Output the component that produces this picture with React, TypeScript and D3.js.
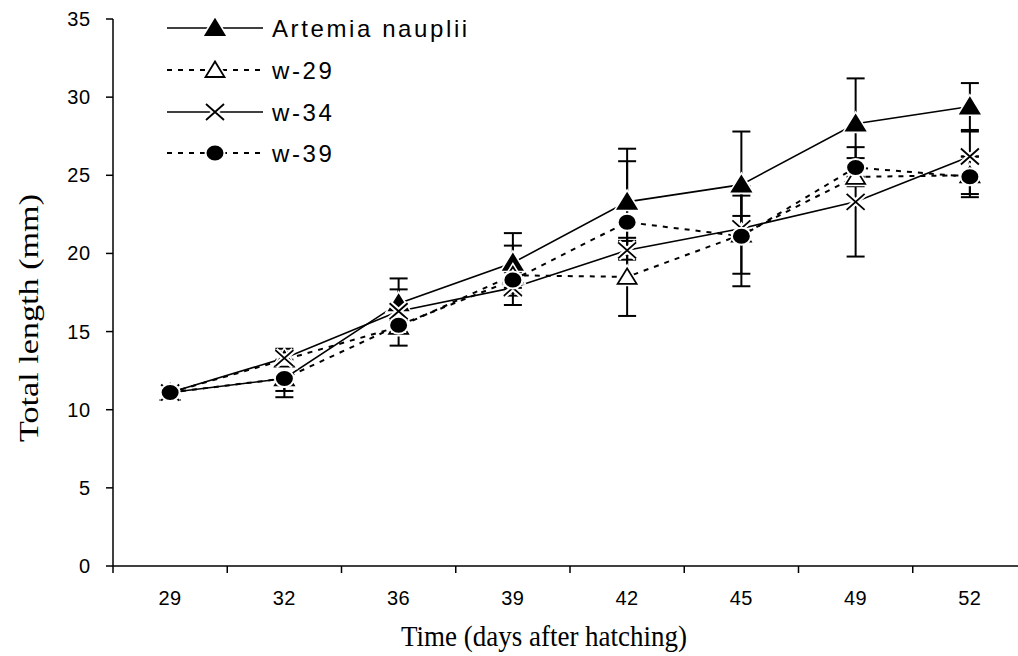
import React, { useEffect, useRef } from 'react';
import * as d3 from 'd3';

const days = ['29', '32', '36', '39', '42', '45', '49', '52'];
const yTicks = [0, 5, 10, 15, 20, 25, 30, 35];

const artemia = [11.1, 12.0, 16.8, 19.4, 23.3, 24.4, 28.3, 29.4];
const artemiaErr = [0, 0.8, 1.6, 1.9, 3.4, 3.4, 2.9, 1.5];
const w29 = [11.1, 13.2, 15.3, 18.6, 18.5, 21.2, 24.9, 25.0];
const w29Err = [0, 0.5, 0.4, 1.9, 2.5, 2.5, 0.6, 1.2];
const w34 = [11.1, 13.3, 16.3, 17.8, 20.2, 21.6, 23.3, 26.2];
const w34Err = [0, 0.6, 1.4, 0.5, 0.6, 0.8, 3.5, 1.6];
const w39 = [11.1, 12.0, 15.4, 18.3, 22.0, 21.1, 25.5, 24.9];
const w39Err = [0, 1.2, 1.3, 0.5, 3.9, 3.2, 0.6, 1.3];

const seriesNames = ['Artemia nauplii', 'w-29', 'w-34', 'w-39'];

type Series = { name: string; values: number[]; err: number[]; dash: string | null; marker: string };

const series: Series[] = [
  { name: seriesNames[0], values: artemia, err: artemiaErr, dash: null, marker: 'tri' },
  { name: seriesNames[1], values: w29, err: w29Err, dash: '5,6', marker: 'opentri' },
  { name: seriesNames[2], values: w34, err: w34Err, dash: null, marker: 'x' },
  { name: seriesNames[3], values: w39, err: w39Err, dash: '5,6', marker: 'dot' },
];

function drawMarker(g: any, kind: string) {
  if (kind === 'tri' || kind === 'opentri') {
    const p = 'M0,-8.5L9.5,7L-9.5,7Z';
    g.append('path').attr('d', p).attr('fill', 'white').attr('stroke', 'white').attr('stroke-width', 5);
    g.append('path').attr('d', p)
      .attr('fill', kind === 'tri' ? 'black' : 'white')
      .attr('stroke', 'black').attr('stroke-width', 1.8);
  } else if (kind === 'x') {
    const p = 'M-9,-8L9,8M-9,8L9,-8';
    g.append('path').attr('d', p).attr('stroke', 'white').attr('stroke-width', 6);
    g.append('path').attr('d', p).attr('stroke', 'black').attr('stroke-width', 1.8);
  } else {
    g.append('ellipse').attr('rx', 9.5).attr('ry', 8.5).attr('fill', 'black')
      .attr('stroke', 'white').attr('stroke-width', 2);
  }
}

export default function App() {
  const ref = useRef<SVGSVGElement>(null);

  useEffect(() => {
    const width = 1018;
    const height = 656;
    const svg = d3.select(ref.current).attr('width', width).attr('height', height);
    svg.selectAll('*').remove();

    const x = d3.scaleBand().domain(days).range([113, 1027]).padding(0);
    const y = d3.scaleLinear().domain([0, 35]).range([566, 19]);
    const cx = (d: string) => (x(d) as number) + x.bandwidth() / 2;

    // axes
    const ax = svg.append('g').attr('stroke', 'black').attr('stroke-width', 1.5);
    ax.append('line').attr('x1', 113).attr('x2', 1027).attr('y1', y(0)).attr('y2', y(0));
    ax.append('line').attr('x1', 113).attr('x2', 113).attr('y1', y(0)).attr('y2', y(35));
    yTicks.forEach(t => {
      ax.append('line').attr('x1', 106).attr('x2', 113).attr('y1', y(t)).attr('y2', y(t));
    });
    days.concat(['end']).forEach((d, i) => {
      const xx = 113 + i * x.bandwidth();
      ax.append('line').attr('x1', xx).attr('x2', xx).attr('y1', y(0)).attr('y2', y(0) + 7);
    });

    svg.append('g').selectAll('text').data(yTicks).enter().append('text')
      .attr('x', 91).attr('y', d => y(d) + 7)
      .attr('text-anchor', 'end')
      .attr('font-family', 'Liberation Sans, Arial, sans-serif')
      .attr('font-size', 20).attr('letter-spacing', 0.8)
      .text(d => d);

    svg.append('g').selectAll('text').data(days).enter().append('text')
      .attr('x', d => cx(d)).attr('y', 605)
      .attr('text-anchor', 'middle')
      .attr('font-family', 'Liberation Sans, Arial, sans-serif')
      .attr('font-size', 20).attr('letter-spacing', 0.5)
      .text(d => d);

    svg.append('text').attr('transform', 'translate(544,646) scale(1,1.1)').attr('text-anchor', 'middle')
      .attr('font-family', 'Liberation Serif, Times New Roman, serif').attr('font-size', 27)
      .text('Time (days after hatching)');
    svg.append('text').attr('transform', 'translate(38,318) rotate(-90) scale(1.22,0.95)').attr('text-anchor', 'middle')
      .attr('font-family', 'Liberation Serif, Times New Roman, serif').attr('font-size', 28)
      .text('Total length (mm)');

    // error bars
    const eb = svg.append('g').attr('stroke', 'black').attr('stroke-width', 2);
    series.forEach(s => {
      s.values.forEach((v, i) => {
        const e = s.err[i];
        if (!e) return;
        const xx = cx(days[i]);
        eb.append('line').attr('x1', xx).attr('x2', xx).attr('y1', y(v - e)).attr('y2', y(v + e));
        [v - e, v + e].forEach(c => {
          eb.append('line').attr('x1', xx - 9).attr('x2', xx + 9).attr('y1', y(c)).attr('y2', y(c));
        });
      });
    });

    const line = d3.line<number>().x((_, i) => cx(days[i])).y(v => y(v));

    series.forEach(s => {
      svg.append('path').datum(s.values).attr('d', line)
        .attr('fill', 'none').attr('stroke', 'black')
        .attr('stroke-width', s.dash ? 2 : 1.6)
        .attr('stroke-dasharray', s.dash);
    });

    series.forEach(s => {
      s.values.forEach((v, i) => {
        const g = svg.append('g').attr('transform', `translate(${cx(days[i])},${y(v)})`);
        drawMarker(g, s.marker);
      });
    });

    // legend
    const legendY = [28, 70, 112, 153];
    series.forEach((s, i) => {
      const lg = svg.append('g').attr('transform', `translate(0,${legendY[i]})`);
      lg.append('line').attr('x1', 167).attr('x2', 263).attr('y1', 0).attr('y2', 0)
        .attr('stroke', 'black').attr('stroke-width', s.dash ? 2 : 1.6)
        .attr('stroke-dasharray', s.dash);
      const mg = lg.append('g').attr('transform', 'translate(215,0)');
      drawMarker(mg, s.marker);
      lg.append('text').attr('x', 272).attr('y', 9)
        .attr('font-family', 'Liberation Sans, Arial, sans-serif')
        .attr('font-size', 24).attr('letter-spacing', 2.6)
        .text(s.name);
    });
  }, []);

  return (
    <div style={{ position: 'absolute', left: 0, top: 0 }}>
      <svg ref={ref} style={{ display: 'block', background: 'white' }} />
    </div>
  );
}
